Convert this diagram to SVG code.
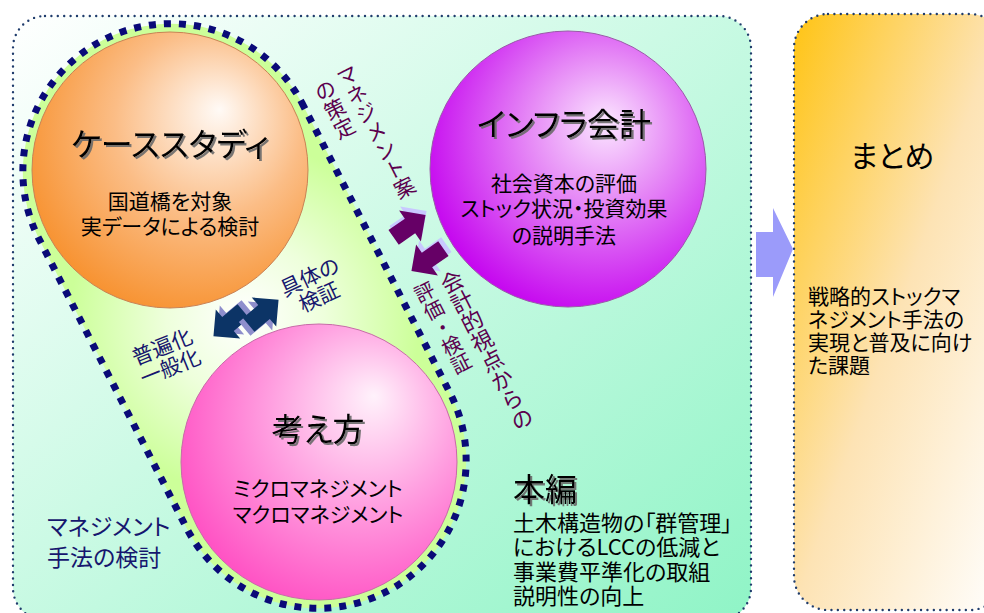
<svg xmlns="http://www.w3.org/2000/svg" xmlns:xlink="http://www.w3.org/1999/xlink" width="984" height="613" viewBox="0 0 984 613">
<defs>
<style>
text{font-family:"Noto Sans CJK JP","Noto Sans",sans-serif;font-feature-settings:"palt" 1;}
.title{font-size:32px;text-anchor:middle;fill:#000;filter:url(#shadow);}
.body{font-size:21px;text-anchor:middle;fill:#000;}
.left{font-size:21px;fill:#000;}
.navy{fill:#16166e;}
.purp{fill:#5c004e;}
.vert{writing-mode:vertical-rl;font-feature-settings:normal;}
.panelBorder{stroke:#1f3c6c;stroke-width:2.4;stroke-dasharray:0 6.4;stroke-linecap:round;}
</style>
<filter id="shadow" x="-10%" y="-20%" width="130%" height="150%">
<feDropShadow dx="2" dy="2" stdDeviation="0.6" flood-color="#6a6a6a" flood-opacity="0.9"/>
</filter>
<linearGradient id="gMain" x1="0" y1="0" x2="1" y2="1">
<stop offset="0" stop-color="#ffffff"/>
<stop offset="1" stop-color="#8ff4c6"/>
</linearGradient>
<linearGradient id="gRight" x1="0" y1="0" x2="1" y2="1">
<stop offset="0" stop-color="#ffc414"/>
<stop offset="0.5" stop-color="#fde3b4"/>
<stop offset="1" stop-color="#ffffff"/>
</linearGradient>
<radialGradient id="gLime" gradientUnits="userSpaceOnUse" cx="245" cy="318" r="175">
<stop offset="0" stop-color="#ffffff"/>
<stop offset="0.45" stop-color="#eeffdc"/>
<stop offset="1" stop-color="#ccff99"/>
</radialGradient>
<radialGradient id="gOrange" cx="0.6" cy="0.38" r="0.68" fx="0.68" fy="0.28">
<stop offset="0" stop-color="#fffaf6"/>
<stop offset="0.5" stop-color="#fbbd86"/>
<stop offset="1" stop-color="#f7902c"/>
</radialGradient>
<radialGradient id="gPurple" cx="0.6" cy="0.4" r="0.66" fx="0.64" fy="0.33">
<stop offset="0" stop-color="#fbe6ff"/>
<stop offset="0.4" stop-color="#e68af6"/>
<stop offset="1" stop-color="#c400ef"/>
</radialGradient>
<radialGradient id="gPink" cx="0.62" cy="0.38" r="0.68" fx="0.7" fy="0.26">
<stop offset="0" stop-color="#fff2fb"/>
<stop offset="0.5" stop-color="#ff9fe0"/>
<stop offset="1" stop-color="#ff50c3"/>
</radialGradient>
<path id="blk" d="M-20,-9 L0,-9 L0,-19 L19,0 L0,19 L0,9 L-20,9 Z"/>
</defs>

<rect width="984" height="613" fill="#ffffff"/>

<g id="main-panel">
<rect x="13" y="16" width="738" height="604" rx="32" ry="32" fill="url(#gMain)" class="panelBorder"/>
</g>

<g id="summary-panel">
<rect x="794" y="14" width="210" height="596" rx="34" ry="34" fill="url(#gRight)" class="panelBorder"/>
<text x="892" y="167" style="font-size:30px;text-anchor:middle;">まとめ</text>
<text class="left"><tspan x="808" y="304">戦略的ストックマ</tspan><tspan x="808" y="327">ネジメント手法の</tspan><tspan x="808" y="350">実現と普及に向け</tspan><tspan x="808" y="373">た課題</tspan></text>
</g>

<g id="management-group">
<path d="M301.8,102.7 L450.8,394.7 A148,148 0 0 1 187.2,529.3 L38.2,237.3 A148,148 0 0 1 301.8,102.7 Z" fill="url(#gLime)" stroke="#0a0a78" stroke-width="7" stroke-dasharray="7 8"/>
<text class="navy" style="font-size:23px;"><tspan x="47" y="535">マネジメント</tspan><tspan x="47" y="566">手法の検討</tspan></text>
</g>

<g id="case-study">
<circle cx="170" cy="170" r="138" fill="url(#gOrange)" stroke="#c98255" stroke-width="1"/>
<text class="title" x="170" y="156">ケーススタディ</text>
<text class="body"><tspan x="170" y="209">国道橋を対象</tspan><tspan x="170" y="234">実データによる検討</tspan></text>
</g>

<g id="infra-accounting">
<circle cx="568" cy="169" r="138" fill="url(#gPurple)" stroke="#9a5aa8" stroke-width="1"/>
<text class="title" x="564" y="136">インフラ会計</text>
<text class="body"><tspan x="564" y="191">社会資本の評価</tspan><tspan x="564" y="216">ストック状況・投資効果</tspan><tspan x="564" y="243">の説明手法</tspan></text>
</g>

<g id="concept">
<circle cx="319" cy="462" r="138" fill="url(#gPink)" stroke="#c86aa8" stroke-width="1"/>
<text class="title" x="318" y="441">考え方</text>
<text class="body"><tspan x="318" y="496">ミクロマネジメント</tspan><tspan x="318" y="522">マクロマネジメント</tspan></text>
</g>

<g id="main-text">
<text class="title" x="513" y="501" style="text-anchor:start;">本編</text>
<text class="left" style="font-size:22px;"><tspan x="513" y="531">土木構造物の「群管理」</tspan><tspan x="513" y="555">におけるLCCの低減と</tspan><tspan x="513" y="580">事業費平準化の取組</tspan><tspan x="513" y="604">説明性の向上</tspan></text>
</g>

<g id="connectors">
<polygon points="756,232 773,232 773,208 793,249 773,297 773,277 756,277" fill="#9b9bfa"/>
<use xlink:href="#blk" fill="#8e8ecc" transform="translate(232,320) rotate(140)"/>
<use xlink:href="#blk" fill="#0c3466" transform="translate(228,324) rotate(140)"/>
<use xlink:href="#blk" fill="#8e8ecc" transform="translate(260,316) rotate(-40)"/>
<use xlink:href="#blk" fill="#0c3466" transform="translate(264,312) rotate(-40)"/>
<use xlink:href="#blk" fill="#c8c8ff" transform="translate(411,222) rotate(-35)"/>
<use xlink:href="#blk" fill="#660066" transform="translate(410,226) rotate(-35)"/>
<use xlink:href="#blk" fill="#c8c8ff" transform="translate(430,256) rotate(145)"/>
<use xlink:href="#blk" fill="#660066" transform="translate(427,260) rotate(145)"/>
<text class="purp vert" transform="translate(342.5,66) rotate(-27)" style="font-size:21px;" x="0" y="0">マネジメント案</text>
<text class="purp vert" transform="translate(320.5,81) rotate(-27)" style="font-size:21px;" x="0" y="0">の策定</text>
<text class="purp vert" transform="translate(447,272) rotate(-27)" style="font-size:22px;" x="0" y="0">会計的視点からの</text>
<text class="purp vert" transform="translate(420,283) rotate(-27)" style="font-size:20px;" x="0" y="0">評価・検証</text>
<text class="navy" transform="translate(313,284) rotate(-25)" style="font-size:21px;text-anchor:middle;"><tspan x="0" y="0">具体の</tspan><tspan x="0" y="22">検証</tspan></text>
<text class="navy" transform="translate(165,354) rotate(-22)" style="font-size:21px;text-anchor:middle;"><tspan x="0" y="0">普遍化</tspan><tspan x="0" y="22">一般化</tspan></text>
</g>
</svg>
